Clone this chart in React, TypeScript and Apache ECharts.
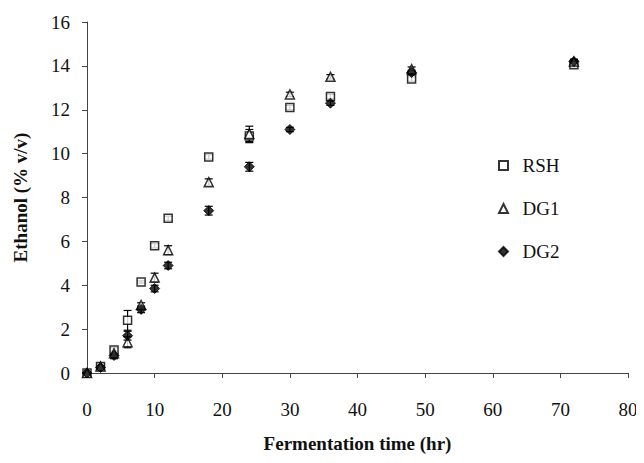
import React, { useEffect, useRef } from "react";
import * as echarts from "echarts";

const times = [0, 2, 4, 6, 8, 10, 12, 18, 24, 30, 36, 48, 72];
const rsh = [0, 0.3, 1.05, 2.4, 4.15, 5.8, 7.05, 9.85, 10.8, 12.1, 12.6, 13.4, 14.05];
const rshErr = [0.05, 0.1, 0.1, 0.45, 0.05, 0.1, 0.1, 0.1, 0.3, 0.1, 0.1, 0.1, 0.1];
const dg1 = [0, 0.3, 0.9, 1.4, 3.1, 4.35, 5.6, 8.7, 10.9, 12.7, 13.5, 13.85, 14.2];
const dg1Err = [0.05, 0.1, 0.1, 0.25, 0.1, 0.2, 0.2, 0.15, 0.35, 0.1, 0.1, 0.1, 0.1];
const dg2 = [0, 0.25, 0.8, 1.7, 2.9, 3.85, 4.9, 7.4, 9.4, 11.1, 12.3, 13.7, 14.2];
const dg2Err = [0.05, 0.1, 0.15, 0.2, 0.15, 0.15, 0.15, 0.2, 0.2, 0.1, 0.1, 0.1, 0.1];
const xTicks = { min: 0, max: 80, interval: 10 };
const yTicks = { min: 0, max: 16, interval: 2 };

const FONT = "Liberation Serif";

function errorSeries(vals: number[], errs: number[]) {
  const data = times.map((t, i) => [t, vals[i] - errs[i], vals[i] + errs[i]]);
  return {
    type: "custom",
    silent: true,
    z: 1,
    renderItem: (params: any, api: any) => {
      const x = api.value(0);
      const lo = api.coord([x, api.value(1)]);
      const hi = api.coord([x, api.value(2)]);
      const w = 4;
      const style = { stroke: "#000", lineWidth: 1.2 };
      return {
        type: "group",
        children: [
          { type: "line", shape: { x1: lo[0], y1: lo[1], x2: hi[0], y2: hi[1] }, style },
          { type: "line", shape: { x1: lo[0] - w, y1: lo[1], x2: lo[0] + w, y2: lo[1] }, style },
          { type: "line", shape: { x1: hi[0] - w, y1: hi[1], x2: hi[0] + w, y2: hi[1] }, style },
        ],
      };
    },
    data,
  };
}

export default function App() {
  const ref = useRef<HTMLDivElement>(null);
  useEffect(() => {
    if (!ref.current) return;
    const chart = echarts.init(ref.current, undefined, { renderer: "svg" });
    const pts = (vals: number[]) => times.map((t, i) => [t, vals[i]]);
    chart.setOption({
      animation: false,
      backgroundColor: "#fff",
      grid: { left: 79, right: 8, top: 14, bottom: 82, containLabel: false, outerBoundsMode: "none" },
      legend: {
        orient: "vertical",
        left: 485,
        top: 143,
        itemGap: 24,
        itemWidth: 9,
        itemHeight: 9,
        formatter: "  {name}",
        textStyle: { fontFamily: FONT, fontSize: 19, color: "#111" },
        data: ["RSH", "DG1", "DG2"],
      },
      xAxis: {
        type: "value",
        ...xTicks,
        name: "Fermentation time (hr)",
        nameLocation: "middle",
        nameGap: 61,
        nameTextStyle: { fontFamily: FONT, fontSize: 19, fontWeight: "bold", color: "#111" },
        axisLine: { lineStyle: { color: "#444", width: 1 } },
        axisTick: { show: true, length: 5, lineStyle: { color: "#444" } },
        axisLabel: { margin: 27, fontFamily: FONT, fontSize: 19, color: "#111" },
        splitLine: { show: false },
      },
      yAxis: {
        type: "value",
        ...yTicks,
        name: "Ethanol (% v/v)",
        nameLocation: "middle",
        nameGap: 57,
        nameRotate: 90,
        nameTextStyle: { fontFamily: FONT, fontSize: 19, fontWeight: "bold", color: "#111" },
        axisLine: { show: true, lineStyle: { color: "#444", width: 1 } },
        axisTick: { show: true, length: 5, lineStyle: { color: "#444" } },
        axisLabel: { margin: 17, fontFamily: FONT, fontSize: 19, color: "#111" },
        splitLine: { show: false },
      },
      series: [
        errorSeries(rsh, rshErr),
        errorSeries(dg1, dg1Err),
        errorSeries(dg2, dg2Err),
        {
          name: "RSH",
          type: "scatter",
          symbol: "rect",
          symbolSize: 8,
          z: 3,
          itemStyle: { color: "#fff", borderColor: "#000", borderWidth: 1.5 },
          data: pts(rsh),
        },
        {
          name: "DG1",
          type: "scatter",
          symbol: "triangle",
          symbolSize: 9,
          z: 3,
          itemStyle: { color: "#fff", borderColor: "#000", borderWidth: 1.5 },
          data: pts(dg1),
        },
        {
          name: "DG2",
          type: "scatter",
          symbol: "diamond",
          symbolSize: 10,
          z: 4,
          itemStyle: { color: "#000", borderColor: "#000", borderWidth: 1 },
          data: pts(dg2),
        },
      ],
    });
    return () => chart.dispose();
  }, []);
  return <div ref={ref} style={{ width: 628, height: 447 }} />;
}
